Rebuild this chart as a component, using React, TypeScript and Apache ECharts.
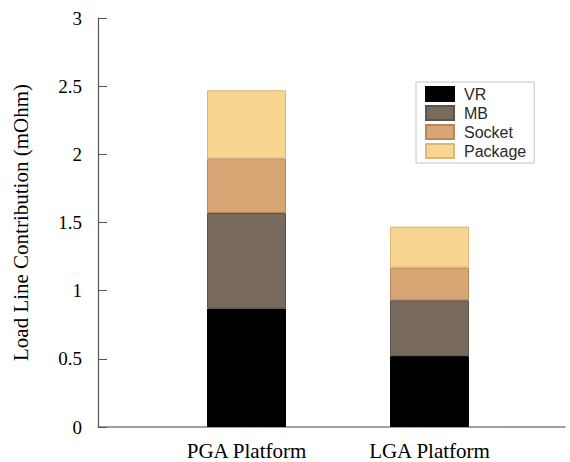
import React, { useEffect, useRef } from "react";
import * as echarts from "echarts";

const categories = ["PGA Platform", "LGA Platform"];
const seriesNames = ["VR", "MB", "Socket", "Package"];
const vrValues = [0.87, 0.52];
const mbValues = [0.7, 0.41];
const socketValues = [0.4, 0.24];
const packageValues = [0.5, 0.3];
const colors = ["#000000", "#786a5c", "#d8a574", "#f9d592"];
const borderColors = ["#000000", "#5e5247", "#b8875a", "#d9b67a"];

export default function App() {
  const ref = useRef<HTMLDivElement>(null);
  useEffect(() => {
    if (!ref.current) return;
    const chart = echarts.init(ref.current, undefined, { renderer: "svg" });
    const values = [vrValues, mbValues, socketValues, packageValues];
    const serif = "'Liberation Serif', 'Times New Roman', serif";
    chart.setOption({
      animation: false,
      backgroundColor: "#ffffff",
      grid: [
        { left: 98, right: 5, top: 18, bottom: 35 },
        { left: 155, width: 366, top: 18, bottom: 35 },
      ],
      legend: {
        data: seriesNames,
        orient: "vertical",
        left: 416,
        top: 82,
        itemWidth: 28,
        itemHeight: 14,
        itemGap: 3,
        padding: [4, 8, 4, 9],
        borderColor: "#c4c4c4",
        borderWidth: 1,
        icon: "rect",
        textStyle: {
          fontFamily: "'Liberation Sans', Arial, sans-serif",
          fontSize: 16,
          color: "#2a2a2a",
          padding: [0, 0, 0, 5],
        },
      },
      xAxis: [
        {
          gridIndex: 0,
          type: "category",
          data: [""],
          axisLine: { show: true, lineStyle: { color: "#808080", width: 1.5 } },
          axisTick: { show: false },
          axisLabel: { show: false },
          splitLine: { show: false },
        },
        {
          gridIndex: 1,
          type: "category",
          data: categories,
          axisLine: { show: false },
          axisTick: { show: false },
          axisLabel: { fontFamily: serif, fontSize: 21, color: "#000", margin: 13 },
          splitLine: { show: false },
        },
      ],
      yAxis: [
        {
          gridIndex: 0,
          type: "value",
          min: 0,
          max: 3,
          interval: 0.5,
          name: "Load Line Contribution (mOhm)",
          nameLocation: "middle",
          nameGap: 67,
          nameTextStyle: { fontFamily: serif, fontSize: 21, color: "#000" },
          axisLine: { show: true, lineStyle: { color: "#555", width: 1.2 } },
          axisTick: { show: true, inside: true, length: 9, lineStyle: { color: "#555" } },
          axisLabel: { fontFamily: serif, fontSize: 19, color: "#000", margin: 16 },
          splitLine: { show: false },
        },
        {
          gridIndex: 1,
          type: "value",
          min: 0,
          max: 3,
          interval: 0.5,
          show: false,
          splitLine: { show: false },
        },
      ],
      series: seriesNames.map((name, i) => ({
        name,
        type: "bar",
        stack: "total",
        xAxisIndex: 1,
        yAxisIndex: 1,
        barWidth: 79,
        data: values[i],
        itemStyle: { color: colors[i], borderColor: borderColors[i], borderWidth: 1 },
      })),
    });
    return () => chart.dispose();
  }, []);
  return (
    <div
      ref={ref}
      style={{ position: "fixed", left: 0, top: 0, width: 570, height: 462 }}
    />
  );
}
